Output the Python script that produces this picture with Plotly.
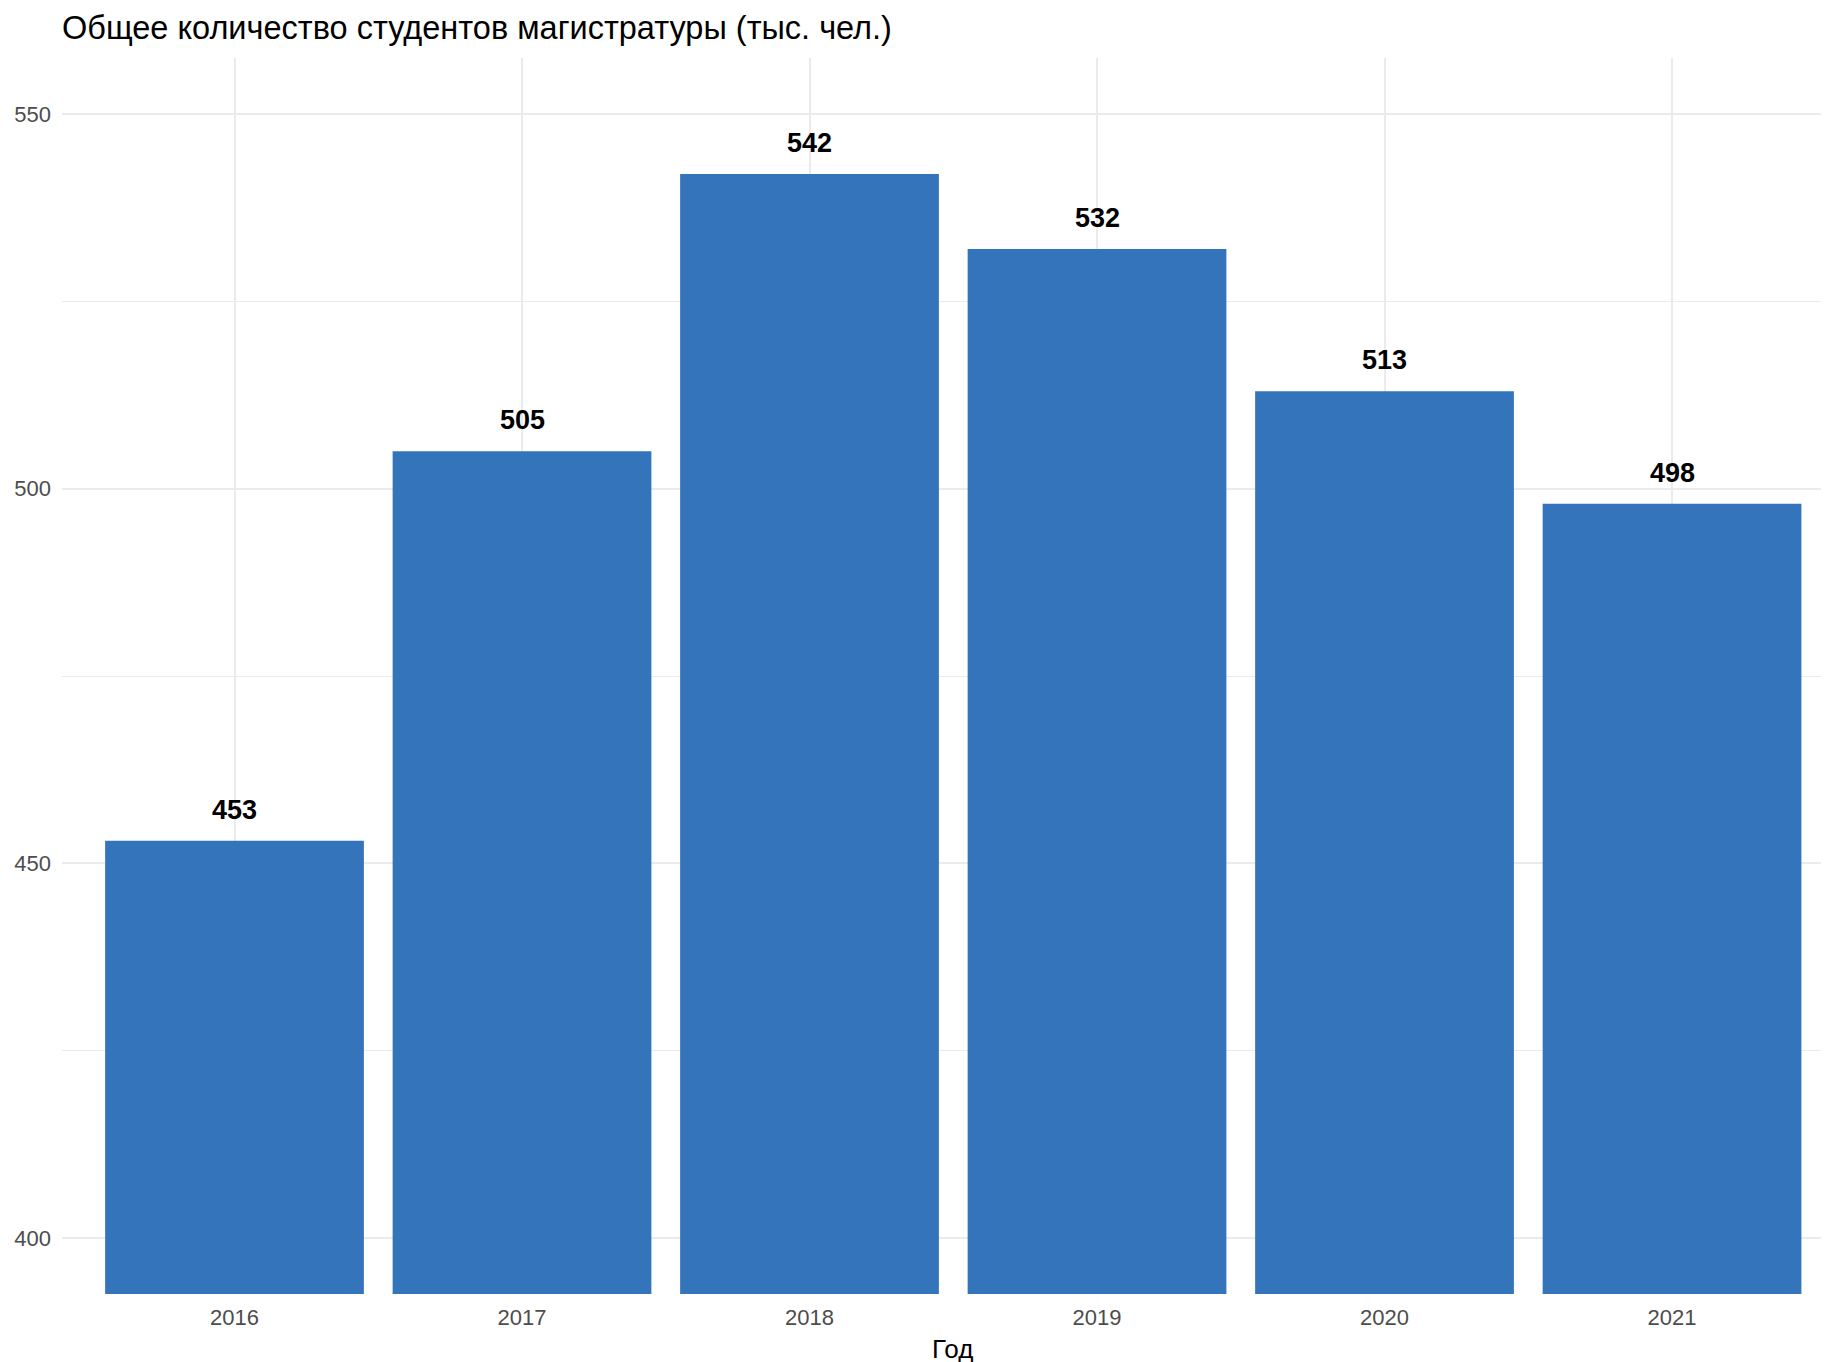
import plotly.graph_objects as go

years = ["2016", "2017", "2018", "2019", "2020", "2021"]
students = [453, 505, 542, 532, 513, 498]
y_ticks = [400, 450, 500, 550]

title_text = "Общее количество студентов магистратуры (тыс. чел.)"
x_title = "Год"

FONT = "Liberation Sans, Arial, sans-serif"
BAR_COLOR = "#3474BA"
GRID = "#EBEBEB"

# page has an 8px body margin; figure is sized to fit the remaining window
W, H = 1821, 1354

fig = go.Figure()
fig.add_trace(go.Bar(
    x=years, y=students,
    marker=dict(color=BAR_COLOR, line=dict(width=0)),
    hoverinfo="x+y",
))
for i, v in enumerate(students):
    fig.add_annotation(
        x=i, y=v, xref="x", yref="y", text=f"<b>{v}</b>", showarrow=False,
        yanchor="bottom", yshift=14,
        font=dict(family=FONT, size=27, color="#000000"),
    )

fig.add_annotation(
    x=0.504, y=-0.0305, xref="paper", yref="paper",
    text=x_title, showarrow=False, xanchor="center", yanchor="top",
    font=dict(family=FONT, size=26, color="#000000"),
)

fig.update_layout(
    width=W, height=H,
    margin=dict(l=54, r=0, t=50, b=68),
    paper_bgcolor="white", plot_bgcolor="white",
    bargap=0.1,
    showlegend=False,
    font=dict(family=FONT),
    title=dict(
        text=title_text, x=54/W, xanchor="left", xref="container",
        y=1 - 20/H, yanchor="middle", yref="container",
        font=dict(family=FONT, size=32.5, color="#000000"),
    ),
    xaxis=dict(
        type="category",
        range=[-0.6, 5.546], showgrid=True, gridcolor=GRID, gridwidth=1.5,
        zeroline=False, showline=False, ticks="",
        tickfont=dict(family=FONT, size=22, color="#4D4D4D"),
        ticklabelstandoff=8,
    ),
    yaxis=dict(
        range=[392.5, 557.5], tickvals=y_ticks, showgrid=True,
        gridcolor=GRID, gridwidth=1.5, zeroline=False, showline=False,
        ticks="", tickfont=dict(family=FONT, size=22, color="#4D4D4D"),
        ticklabelstandoff=10,
        minor=dict(dtick=25, tick0=400, showgrid=True, gridcolor=GRID, gridwidth=1),
    ),
)

fig.write_html("out.html")
